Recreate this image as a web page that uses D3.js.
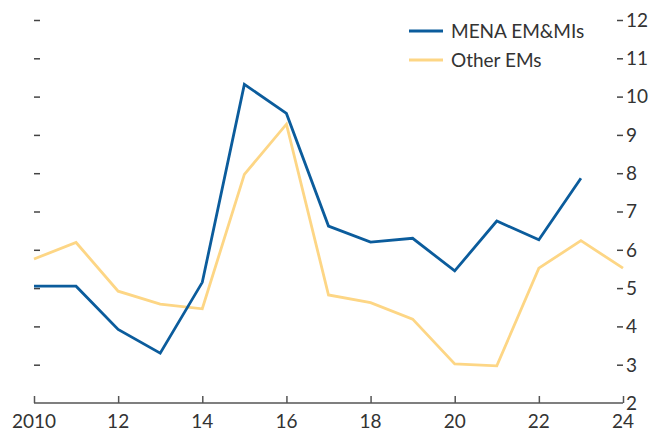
<!DOCTYPE html>
<html>
<head>
<meta charset="utf-8">
<script src="https://cdn.jsdelivr.net/npm/d3@7"></script>
<style>
    body { margin: 0; background: #fff; }
    svg text { font-family: Lato, "Open Sans", sans-serif; fill: #333; }
</style>
</head>
<body>
<svg id="chart" width="652" height="431"></svg>
<script>
var years = d3.range(2010, 2025);
var mena = [5.05, 5.05, 3.92, 3.30, 5.15, 10.32, 9.56, 6.62, 6.20, 6.30, 5.45, 6.75, 6.26, 7.87];
var otherEms = [5.76, 6.19, 4.92, 4.58, 4.46, 7.97, 9.28, 4.82, 4.62, 4.19, 3.02, 2.97, 5.52, 6.24, 5.52];
var xTicks = [2010, 2012, 2014, 2016, 2018, 2020, 2022, 2024];
var yTicks = d3.range(2, 13);

var series = [
    { name: "MENA EM&MIs", values: mena, color: "#0b5c9c" },
    { name: "Other EMs", values: otherEms, color: "#fdd685" },
];

var margin = { left: 34, right: 29, top: 20, bottom: 28 };
var width = 652, height = 431;
var svg = d3.select("#chart");

var x = d3.scaleLinear().domain([2010, 2024]).range([margin.left, width - margin.right]);
var y = d3.scaleLinear().domain([2, 12]).range([height - margin.bottom, margin.top]);

// left ticks, no labels
var left = svg.append("g")
    .attr("transform", `translate(${x(2010)},0)`)
    .call(d3.axisRight(y).tickValues(yTicks.slice(1)).tickSize(6).tickFormat(""));
left.select(".domain").remove();
left.selectAll("line").attr("stroke", "#444").attr("stroke-width", 1.5);

// right axis with labels
var right = svg.append("g")
    .attr("transform", `translate(${x(2024)},0)`)
    .call(d3.axisLeft(y).tickValues(yTicks.slice(1)).tickSize(6).tickFormat(""));
right.select(".domain").remove();
right.selectAll("line").attr("stroke", "#444").attr("stroke-width", 1.5);

svg.append("g").selectAll("text")
    .data(yTicks)
    .join("text")
    .attr("x", x(2024) + 3)
    .attr("y", d => y(d))
    .attr("dy", "0.36em")
    .style("font-size", "19px")
    .text(d => d);

// x axis
var bottom = svg.append("g")
    .attr("transform", `translate(0,${y(2)})`)
    .call(d3.axisTop(x).tickValues(xTicks).tickSize(7).tickFormat(""));
bottom.select(".domain").attr("stroke", "#555").attr("stroke-width", 1.5)
    .attr("d", `M${x(2010)},0H${x(2024)}`);
bottom.selectAll("line").attr("stroke", "#555").attr("stroke-width", 1.5);

svg.append("g").selectAll("text")
    .data(xTicks)
    .join("text")
    .attr("x", d => x(d))
    .attr("y", y(2) + 25)
    .attr("text-anchor", "middle")
    .style("font-size", "19px")
    .text(d => d === 2010 ? "2010" : String(d).slice(2));

var line = d3.line()
    .x((d, i) => x(years[i]))
    .y(d => y(d));

// draw other EMs first so MENA sits on top
for (let s of series.slice().reverse()) {
    svg.append("path")
        .attr("d", line(s.values))
        .attr("fill", "none")
        .attr("stroke", s.color)
        .attr("stroke-width", 2.8)
        .attr("stroke-linejoin", "miter");
}

// legend
var legend = svg.append("g").attr("transform", "translate(409,31)");
series.forEach((s, i) => {
    legend.append("line")
        .attr("x1", 0).attr("x2", 34)
        .attr("y1", i * 29).attr("y2", i * 29)
        .attr("stroke", s.color)
        .attr("stroke-width", 2.8);
    legend.append("text")
        .attr("x", 42)
        .attr("y", i * 29)
        .attr("dy", "0.36em")
        .style("font-size", "19px")
        .text(s.name);
});
</script>
</body>
</html>
